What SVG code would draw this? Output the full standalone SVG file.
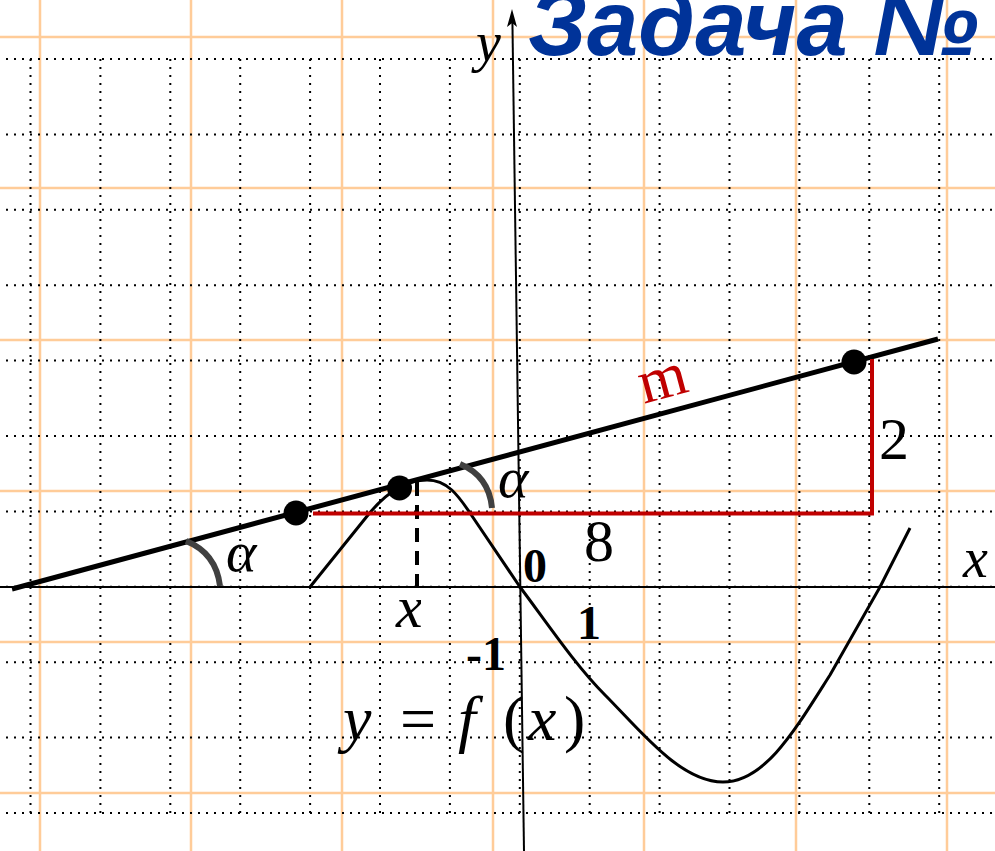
<svg xmlns="http://www.w3.org/2000/svg" width="995" height="851" viewBox="0 0 995 851">
<style>
.og{stroke:#FFCC99;stroke-width:2.5;fill:none}
.dg{stroke:#000;stroke-width:2;stroke-dasharray:2 6;fill:none}
.ax{stroke:#000;stroke-width:2;fill:none}
.crv{stroke:#000;stroke-width:3;fill:none;stroke-linejoin:round}
.tan{stroke:#000;stroke-width:5;fill:none}
.red{stroke:#C00000;stroke-width:4;fill:none}
.arc{stroke:#404040;stroke-width:6;fill:none}
.it{font-family:"Liberation Serif","Times New Roman",serif;font-style:italic;fill:#000}
.rm{font-family:"Liberation Serif","Times New Roman",serif;fill:#000}
.rd{font-family:"Liberation Serif","Times New Roman",serif;fill:#C00000}
.bd{font-family:"Liberation Serif","Times New Roman",serif;font-weight:bold;fill:#000}
</style>
<defs>
<clipPath id="cx"><rect x="390" y="590" width="31" height="45"/></clipPath>
</defs>
<rect width="995" height="851" fill="#fff"/>
<g id="orange-grid" class="og">
<path d="M40,0V851M191,0V851M342,0V851M493,0V851M644,0V851M796,0V851M947,0V851"/>
<path d="M0,37H995M0,188H995M0,340H995M0,491H995M0,642H995M0,793H995"/>
</g>
<g id="dotted-grid" class="dg">
<path d="M6,59H995M6,134.4H995M6,209.8H995M6,285.2H995M6,360.6H995M6,436H995M6,511.4H995M6,586.8H995M6,662.2H995M6,737.6H995M6,813H995"/>
<path d="M30.5,59V814M100.4,59V814M170.3,59V814M240.2,59V814M310.1,59V814M380,59V814M449.9,59V814M519.8,59V814M589.7,59V814M659.6,59V814M729.5,59V814M799.4,59V814M869.3,59V814M939.2,59V814"/>
</g>
<g id="title">
<text x="528" y="55" font-family="'Liberation Sans',Arial,sans-serif" font-weight="bold" font-style="italic" font-size="92" fill="#003399">Задача №</text>
</g>
<g id="connectors">
<line id="x-axis" class="ax" x1="0" y1="587" x2="995" y2="587"/>
<g id="y-axis">
<line class="ax" x1="524" y1="851" x2="512.4" y2="20"/>
<path d="M512,9 L507,27 L512.2,23 L517,27 Z" fill="#000"/>
</g>
<path id="curve" class="crv" d="M310,587 L368,515 C385,494 405,480 427,480 C447,480 458,495 470,513 L520,587 C545,620 575,665 605,695 C640,730 680,782 723,782 C765,782 795,730 830,675 L880,587 L910,528"/>
<line id="dashed" x1="417" y1="482" x2="417" y2="587" stroke="#000" stroke-width="4" stroke-dasharray="14 9"/>
<line id="tangent-m" class="tan" x1="12" y1="589" x2="938" y2="339"/>
<path id="red-legs" class="red" d="M313,513.5 H872 V359"/>
<path id="arc1" class="arc" d="M186,541 Q216,553 220,586"/>
<path id="arc2" class="arc" d="M460,464 Q489,476 492,508"/>
</g>
<g id="points" fill="#000">
<circle cx="296" cy="513" r="12.5"/>
<circle cx="399.5" cy="488" r="12.5"/>
<circle cx="854" cy="362" r="12.5"/>
</g>
<g id="labels">
<text class="it" x="476" y="61" font-size="56">y</text>
<text class="it" x="963" y="577" font-size="56">x</text>
<text class="it" x="226" y="571" font-size="58">α</text>
<text class="it" x="498" y="497" font-size="58">α</text>
<text class="bd" x="523" y="582" font-size="48">0</text>
<text class="bd" x="466" y="670" font-size="48">-1</text>
<text class="bd" x="577" y="639" font-size="48">1</text>
<text class="rm" x="584" y="561" font-size="60">8</text>
<text class="rm" x="879" y="459" font-size="60">2</text>
<text class="rd" x="664" y="398" font-size="62" text-anchor="middle" transform="rotate(-15 664 385)">m</text>
<text class="it" x="396" y="627" font-size="60" clip-path="url(#cx)">x</text>
<g id="formula" class="it" font-size="64">
<text x="343" y="740">y</text>
<text x="400" y="740" style="font-style:normal">=</text>
<text x="458" y="740">f</text>
<text x="503" y="740" style="font-style:normal">(</text>
<text x="528" y="740">x</text>
<text x="564" y="740" style="font-style:normal">)</text>
</g>
</g>
</svg>
